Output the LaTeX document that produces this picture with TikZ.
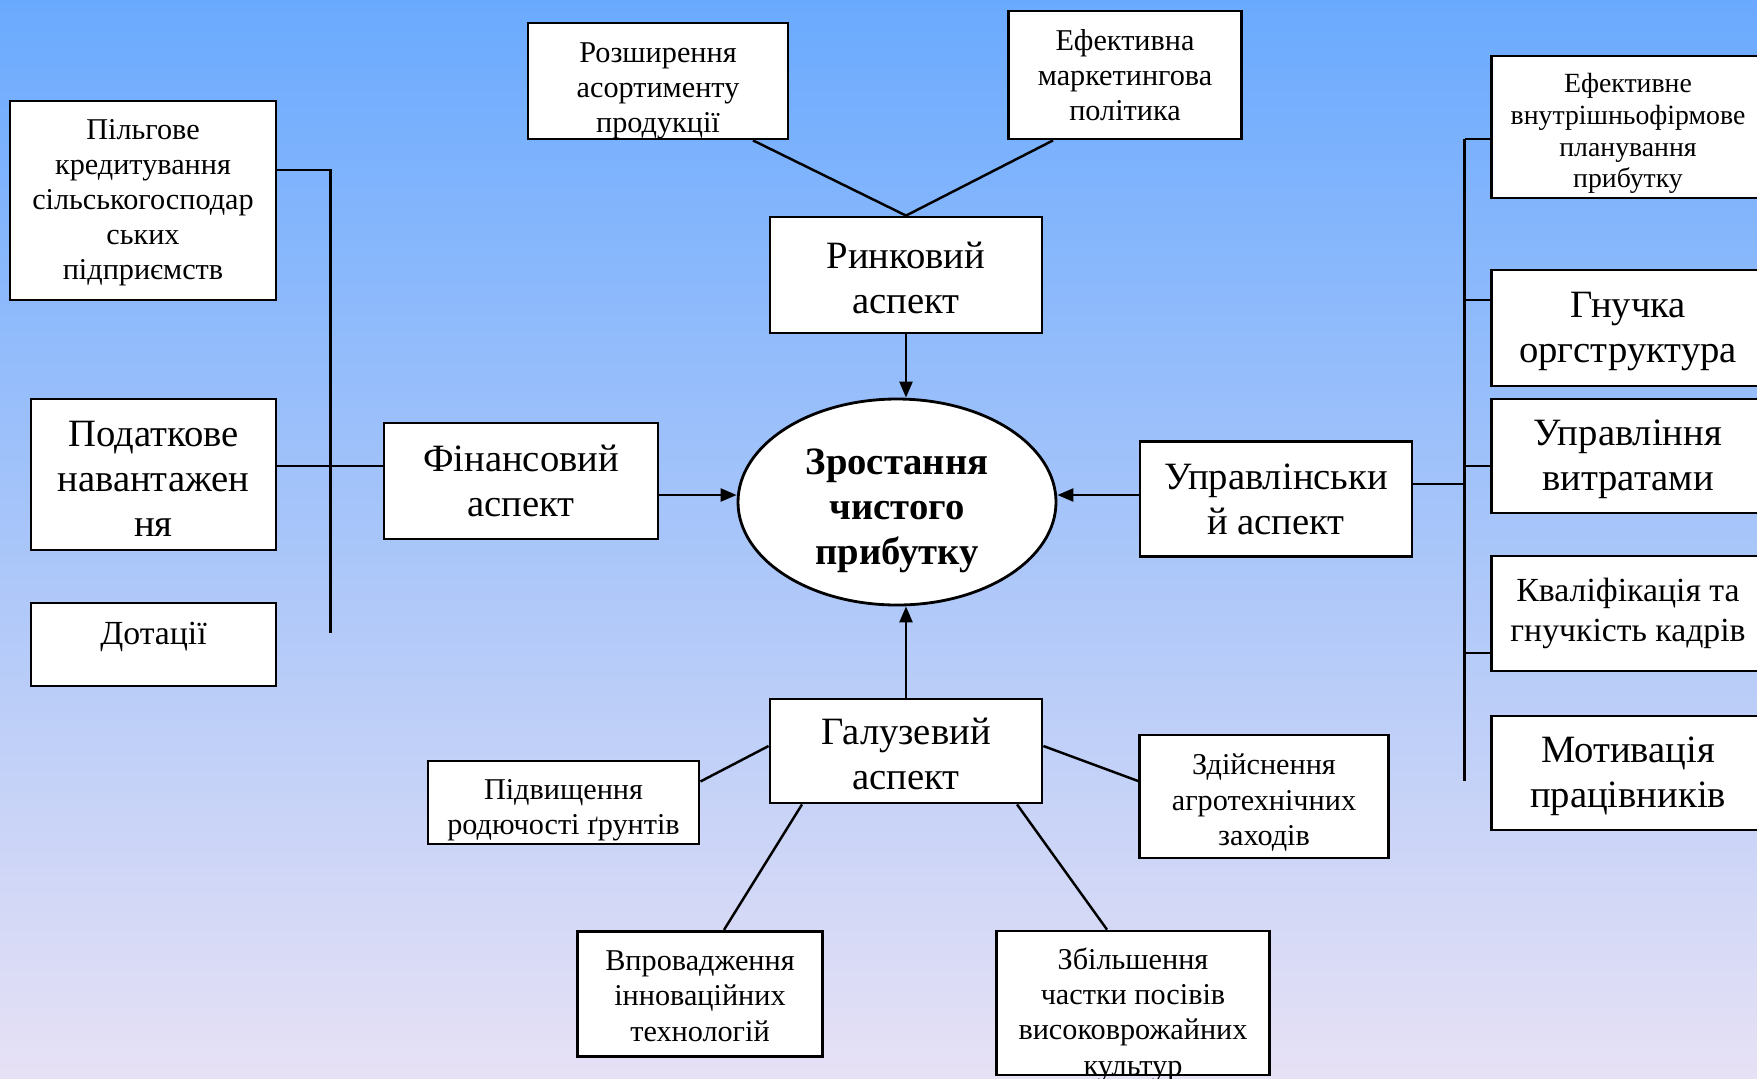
\documentclass[tikz,border=0pt]{standalone}
\usepackage{fontspec}
\setmainfont{Liberation Serif}
\usepackage{tikz}
\usetikzlibrary{positioning,arrows.meta,calc,shapes.geometric}
\definecolor{skytop}{HTML}{6AAAFE}
\definecolor{skymid}{HTML}{A0C8F4}
\definecolor{skylow}{HTML}{E7E1F5}
% invisible strut on a first line, pushes the text down in its box
\newcommand{\dropto}[1]{\rule{0pt}{#1}}

\begin{document}
\begin{tikzpicture}[x=0.1mm, y=-0.1mm,
   block/.style={draw, fill=white, line width=0.8pt, inner sep=0pt, align=center},
   goal/.style={draw, ellipse, fill=white, line width=0.8pt, inner sep=0pt, align=center,
                minimum width=31.8mm, minimum height=20.6mm,
                font=\fontsize{11}{12.8}\selectfont\bfseries},
   big/.style={font=\fontsize{11}{12.8}\selectfont},
   mid/.style={font=\fontsize{9.6}{11.4}\selectfont},
   small/.style={font=\fontsize{8.6}{10}\selectfont},
   tiny/.style={font=\fontsize{7.9}{9.1}\selectfont},
   link/.style={line width=0.7pt},
   >={Triangle[length=1.6mm,width=1.3mm]}]
  \clip (0,0) rectangle (1757,1078);
  \shade[top color=skytop, middle color=skymid, bottom color=skylow] (0,0) rectangle (1757,1078);

  % centre
  \node[goal] (goal) at (897,502) {\dropto{4.4mm}Зростання\\чистого\\прибутку};

  % market branch
  \node[block, big, minimum width=27.2mm, minimum height=11.6mm] (market) at (906,275) {\dropto{3.2mm}Ринковий\\аспект};
  \node[block, small, minimum width=26mm, minimum height=11.6mm] (range) at (658,81) {\dropto{3.9mm}Розширення\\асортименту\\продукції};
  \node[block, small, minimum width=23.3mm, minimum height=12.8mm] (promo) at (1125,75) {Ефективна\\маркетингова\\політика};

  % finance branch
  \node[block, big, minimum width=27.4mm, minimum height=11.6mm] (finance) at (521,481) {Фінансовий\\аспект};
  \node[block, small, minimum width=26.6mm, minimum height=19.9mm] (credit) at (143,200.5) {\dropto{2.4mm}Пільгове\\кредитування\\сільськогосподар\\ських\\підприємств};
  \node[block, big, minimum width=24.5mm, minimum height=15.1mm] (tax) at (153.5,474.5) {\dropto{3.3mm}Податкове\\навантажен\\ня};
  \node[block, mid, minimum width=24.5mm, minimum height=8.3mm, text height=2.3mm, text depth=2.3mm] (subsid) at (153.5,644.5) {Дотації};

  % management branch
  \node[block, big, minimum width=27.2mm, minimum height=11.5mm] (manage) at (1276,499) {Управлінськи\\й аспект};
  \node[block, tiny, minimum width=27.35mm, minimum height=14.2mm] (plan) at (1628,127) {\dropto{3.2mm}Ефективне\\внутрішньофірмове\\планування\\прибутку};
  \node[block, big, minimum width=27.35mm, minimum height=11.6mm] (orgstr) at (1628,328) {\dropto{3.3mm}Гнучка\\оргструктура};
  \node[block, big, minimum width=27.35mm, minimum height=11.4mm] (costs) at (1628,456) {\dropto{3.3mm}Управління\\витратами};
  \node[block, mid, minimum width=27.35mm, minimum height=11.5mm] (staff) at (1628,613.5) {Кваліфікація та\\гнучкість кадрів};
  \node[block, big, minimum width=27.35mm, minimum height=11.4mm] (motive) at (1628,773) {\dropto{3.3mm}Мотивація\\працівників};

  % branch of the industry
  \node[block, big, minimum width=27.2mm, minimum height=10.4mm] (branch) at (906,751) {\dropto{3.3mm}Галузевий\\аспект};
  \node[block, small, minimum width=27.1mm, minimum height=8.3mm] (soil) at (563.5,802.5) {\dropto{3.6mm}Підвищення\\родючості ґрунтів};
  \node[block, small, minimum width=24.9mm, minimum height=12.3mm] (agro) at (1264,796.5) {\dropto{3.3mm}Здійснення\\агротехнічних\\заходів};
  \node[block, small, minimum width=24.45mm, minimum height=12.55mm] (innov) at (700,994) {\dropto{2.4mm}Впровадження\\інноваційних\\технологій};
  \node[block, small, minimum width=27.25mm, minimum height=14.4mm, text height=14.4mm, text depth=0pt] (crops) at (1133,1003) {Збільшення\\частки посівів\\високоврожайних\\культур};

  % arrows into the centre
  \path ([yshift=0.7mm]goal.west) coordinate (gw) ([yshift=0.7mm]goal.east) coordinate (ge);
  \draw[link, ->] (market.south) -- (market.south |- goal.north);
  \draw[link, ->] (finance.east |- gw) -- (gw);
  \draw[link, ->] (manage.west |- ge) -- (ge);
  \draw[link, ->] (branch.north) -- (branch.north |- goal.south);

  % market links
  \draw[link] ([xshift=9.5mm]range.south) -- (market.north);
  \draw[link] ([xshift=-7.2mm]promo.south) -- (market.north);

  % finance bus
  \coordinate (ftop) at (330.5,170);
  \coordinate (fbot) at (330.5,633);
  \coordinate (fmid) at (330.5,466);
  \draw[link] (credit.east |- ftop) -- (ftop) -- (fbot);
  \draw[link] (tax.east |- fmid) -- (finance.west |- fmid);

  % management bus
  \coordinate (rtop) at (1464.5,139);
  \coordinate (rbot) at (1464.5,781);
  \draw[link] (rtop) -- (rbot);
  \draw[link] ([yshift=1.5mm]manage.east) coordinate (m1) -- (m1 -| rtop);
  \foreach \n/\d in {plan/-1.2, orgstr/2.8, costs/-1.0, staff/-3.95}
    \draw[link] ([yshift=\d mm]\n.west) coordinate (tmp) -- (tmp -| rtop);

  % industry links
  \draw[link] ([yshift=2.1mm]soil.east) -- ([yshift=0.5mm]branch.west);
  \draw[link] ([yshift=0.5mm]branch.east) -- ([yshift=1.55mm]agro.west);
  \draw[link] ([xshift=-10.4mm]branch.south) -- ([xshift=2.4mm]innov.north);
  \draw[link] ([xshift=11.1mm]branch.south) -- ([xshift=-2.6mm]crops.north);
\end{tikzpicture}
\end{document}
